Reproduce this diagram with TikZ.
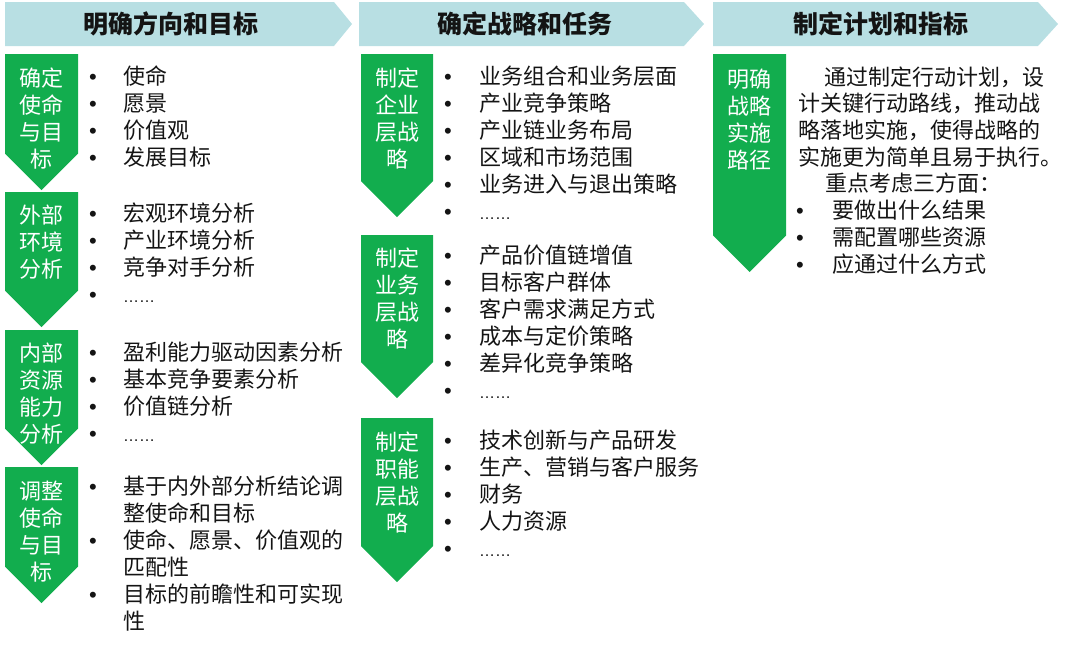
\documentclass[tikz,border=0pt]{standalone}
\usepackage{fontspec}
\newfontfamily\cjk{Noto Sans CJK SC}
\newfontfamily\latn{Liberation Sans}
\definecolor{hdrblue}{HTML}{B8DFE3}
\definecolor{gr}{HTML}{12AD4E}
\definecolor{ink}{HTML}{141414}
\newcommand\mydots{{\latn\fontsize{16}{16}\selectfont ……}}
\tikzset{
 hdrshape/.style={fill=hdrblue,draw=none},
 gshape/.style={fill=gr,draw=none},
 hdrtxt/.style={inner sep=0,anchor=base,text=ink,font=\cjk\bfseries\fontsize{25}{30}\selectfont},
 gtxt/.style={inner sep=0,anchor=base,text=white,font=\cjk\fontsize{22}{27}\selectfont},
 btxt/.style={inner sep=0,anchor=base west,text=ink,font=\cjk\fontsize{22}{27}\selectfont},
 bul/.style={inner sep=0,anchor=base,text=ink,font=\latn\fontsize{22}{27}\selectfont},
}
% bullet list: name, bullet x, text x, first line centre y, items flag/text
\newcommand\blist[5]{%
 \foreach \b/\t [count=\i from 0] in {#5}{%
   \pgfmathsetmacro\yy{#4+27*\i+8}%
   \node[btxt] (#1-t\i) at (#3,\yy) {\t};%
   \ifnum\b=1 \node[bul] (#1-b\i) at (#2,\yy) {•};\fi
 }}
% green label lines: name, x, first y, items
\newcommand\glist[4]{%
 \foreach \t [count=\i from 0] in {#4}{%
   \pgfmathsetmacro\yy{#3+27*\i+8}%
   \node[gtxt] (#1-\i) at (#2,\yy) {\t};}}
\newcommand\gchev[4]{\path[gshape] (#1,#3) -- (#2,#3) -- (#2,{#4-(#2-#1)/2}) -- ({(#1+#2)/2},#4) -- (#1,{#4-(#2-#1)/2}) -- cycle;}
\newcommand\hchev[3]{\path[hdrshape] (#1,2) -- (#2,2) -- (#3,24) -- (#2,46) -- (#1,46) -- cycle;}
\begin{document}
\begin{tikzpicture}[x=1pt,y=-1pt]
\useasboundingbox (0,0) rectangle (1080,646);
% headers
\hchev{5}{334}{352}
\hchev{359}{684}{704}
\hchev{713}{1038}{1058}
\node[hdrtxt] (h1) at (171,33.5) {明确方向和目标};
\node[hdrtxt] (h2) at (525,33.5) {确定战略和任务};
\node[hdrtxt] (h3) at (881,33.5) {制定计划和指标};
% column 1 green chevrons
\gchev{5}{78}{54}{190}
\gchev{5}{78}{192}{327}
\gchev{5}{78}{330}{465}
\gchev{5}{78}{467}{603}
\glist{ga}{41.5}{78}{确定,使命,与目,标}
\glist{gb}{41.5}{215}{外部,环境,分析}
\glist{gc}{41.5}{353}{内部,资源,能力,分析}
\glist{gd}{41.5}{491}{调整,使命,与目,标}
% column 2 green chevrons
\gchev{361}{433}{54}{217}
\gchev{361}{433}{235}{398}
\gchev{361}{433}{418}{582}
\glist{ge}{397}{78}{制定,企业,层战,略}
\glist{gf}{397}{258}{制定,业务,层战,略}
\glist{gg}{397}{442}{制定,职能,层战,略}
% column 3 green chevron
\gchev{713}{786}{54}{272}
\glist{gh}{749.5}{79}{明确,战略,实施,路径}
% column 1 lists
\blist{la}{93}{123}{76}{1/使命,1/愿景,1/价值观,1/发展目标}
\blist{lb}{93}{123}{213}{1/宏观环境分析,1/产业环境分析,1/竞争对手分析,1/\mydots}
\blist{lc}{93}{123}{352}{1/盈利能力驱动因素分析,1/基本竞争要素分析,1/价值链分析,1/\mydots}
\blist{ld}{93}{123}{486}{1/基于内外部分析结论调,0/整使命和目标,1/使命、愿景、价值观的,0/匹配性,1/目标的前瞻性和可实现,0/性}
% column 2 lists
\blist{le}{448}{479}{76}{1/业务组合和业务层面,1/产业竞争策略,1/产业链业务布局,1/区域和市场范围,1/业务进入与退出策略,1/\mydots}
\blist{lf}{448}{479}{255}{1/产品价值链增值,1/目标客户群体,1/客户需求满足方式,1/成本与定价策略,1/差异化竞争策略,1/\mydots}
\blist{lg}{448}{479}{440}{1/技术创新与产品研发,1/生产、营销与客户服务,1/财务,1/人力资源,1/\mydots}
% column 3 text
\node[btxt] (p1) at (824,85) {通过制定行动计划，设};
\node[btxt] (p2) at (798,111) {计关键行动路线，推动战};
\node[btxt] (p3) at (798,138) {略落地实施，使得战略的};
\node[btxt] (p4) at (798,165) {实施更为简单且易于执行。};
\node[btxt] (p5) at (825,191) {重点考虑三方面：};
\blist{lh}{800}{832}{210}{1/要做出什么结果,1/需配置哪些资源,1/应通过什么方式}
\end{tikzpicture}
\end{document}
